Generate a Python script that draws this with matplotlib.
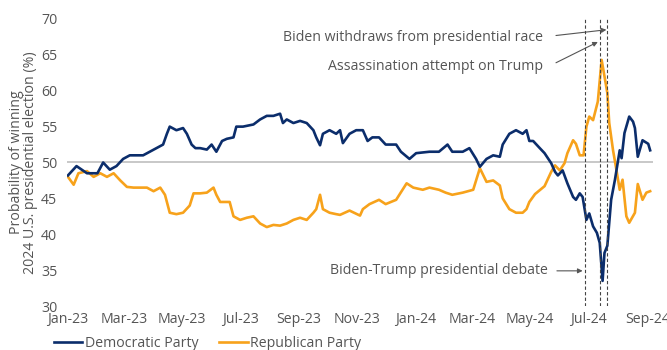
import pandas as pd
import matplotlib.pyplot as plt
import matplotlib.dates as mdates

# Probability of winning (%)
dem_dates = [
    "2023-01-01", "2023-01-10", "2023-01-21", "2023-02-01", "2023-02-07", "2023-02-14",
    "2023-02-21", "2023-02-28", "2023-03-07", "2023-03-14", "2023-03-21", "2023-03-28",
    "2023-04-04", "2023-04-11", "2023-04-15", "2023-04-18", "2023-04-25", "2023-05-02",
    "2023-05-06", "2023-05-11", "2023-05-15", "2023-05-20", "2023-05-27", "2023-06-01",
    "2023-06-06", "2023-06-12", "2023-06-17", "2023-06-24", "2023-06-27", "2023-07-04",
    "2023-07-15", "2023-07-22", "2023-07-29", "2023-08-05", "2023-08-12", "2023-08-15",
    "2023-08-19", "2023-08-26", "2023-09-02", "2023-09-09", "2023-09-16", "2023-09-19",
    "2023-09-23", "2023-09-26", "2023-10-03", "2023-10-10", "2023-10-14", "2023-10-17",
    "2023-10-24", "2023-10-31", "2023-11-07", "2023-11-12", "2023-11-17", "2023-11-24",
    "2023-12-01", "2023-12-12", "2023-12-17", "2023-12-26", "2024-01-02", "2024-01-16",
    "2024-01-26", "2024-02-04", "2024-02-09", "2024-02-20", "2024-02-27", "2024-03-05",
    "2024-03-09", "2024-03-16", "2024-03-23", "2024-03-30", "2024-04-02", "2024-04-09",
    "2024-04-16", "2024-04-23", "2024-04-27", "2024-04-30", "2024-05-04", "2024-05-11",
    "2024-05-16", "2024-05-23", "2024-05-27", "2024-05-30", "2024-06-04", "2024-06-09",
    "2024-06-15", "2024-06-18", "2024-06-22", "2024-06-25", "2024-06-29", "2024-07-02",
    "2024-07-06", "2024-07-10", "2024-07-13", "2024-07-16", "2024-07-18", "2024-07-21",
    "2024-07-25", "2024-07-29", "2024-08-03", "2024-08-05", "2024-08-08", "2024-08-13",
    "2024-08-17", "2024-08-19", "2024-08-22", "2024-08-27", "2024-09-02", "2024-09-04",
]
dem_values = [
    48.2, 49.5, 48.5, 48.5, 50.0, 49.0,
    49.5, 50.5, 51.0, 51.0, 51.0, 51.5,
    52.0, 52.5, 54.0, 55.0, 54.5, 54.8,
    54.0, 52.5, 52.0, 52.0, 51.8, 52.5,
    51.5, 53.0, 53.3, 53.5, 55.0, 55.0,
    55.3, 56.0, 56.5, 56.5, 56.8, 55.5,
    56.0, 55.5, 55.8, 55.5, 54.5, 53.5,
    52.4, 54.0, 54.5, 54.0, 54.5, 52.7,
    54.0, 54.5, 54.5, 53.0, 53.5, 53.5,
    52.5, 52.5, 51.5, 50.5, 51.3, 51.5,
    51.5, 52.5, 51.5, 51.5, 52.0, 50.5,
    49.4, 50.5, 51.0, 50.8, 52.5, 54.0,
    54.5, 54.0, 54.5, 53.0, 53.0, 52.0,
    51.3, 49.9, 48.7, 48.2, 48.9, 47.1,
    45.2, 44.8, 45.7, 45.2, 42.0, 42.9,
    41.1, 40.2, 38.8, 33.5, 37.4, 38.4,
    44.8, 47.6, 51.7, 50.6, 54.1, 56.4,
    55.7, 54.8, 50.8, 53.1, 52.6, 51.7,
]

rep_dates = [
    "2023-01-01", "2023-01-07", "2023-01-12", "2023-01-21", "2023-01-28", "2023-02-04",
    "2023-02-11", "2023-02-18", "2023-02-25", "2023-03-04", "2023-03-11", "2023-03-18",
    "2023-03-25", "2023-04-01", "2023-04-08", "2023-04-13", "2023-04-18", "2023-04-25",
    "2023-05-02", "2023-05-09", "2023-05-13", "2023-05-20", "2023-05-27", "2023-06-03",
    "2023-06-06", "2023-06-10", "2023-06-20", "2023-06-24", "2023-07-01", "2023-07-08",
    "2023-07-15", "2023-07-22", "2023-07-29", "2023-08-05", "2023-08-12", "2023-08-19",
    "2023-08-26", "2023-09-02", "2023-09-09", "2023-09-16", "2023-09-19", "2023-09-23",
    "2023-09-26", "2023-10-03", "2023-10-10", "2023-10-14", "2023-10-24", "2023-11-04",
    "2023-11-07", "2023-11-14", "2023-11-24", "2023-12-01", "2023-12-12", "2023-12-23",
    "2023-12-30", "2024-01-09", "2024-01-16", "2024-01-26", "2024-02-02", "2024-02-09",
    "2024-02-20", "2024-03-02", "2024-03-09", "2024-03-16", "2024-03-23", "2024-03-30",
    "2024-04-02", "2024-04-09", "2024-04-16", "2024-04-23", "2024-04-27", "2024-04-30",
    "2024-05-06", "2024-05-16", "2024-05-23", "2024-05-27", "2024-06-01", "2024-06-06",
    "2024-06-09", "2024-06-15", "2024-06-18", "2024-06-22", "2024-06-26", "2024-06-29",
    "2024-07-02", "2024-07-06", "2024-07-11", "2024-07-15", "2024-07-18", "2024-07-21",
    "2024-07-23", "2024-07-27", "2024-07-30", "2024-08-03", "2024-08-06", "2024-08-10",
    "2024-08-13", "2024-08-19", "2024-08-22", "2024-08-27", "2024-08-31", "2024-09-04",
]
rep_values = [
    48.0, 46.9, 48.5, 48.8, 48.0, 48.5,
    48.0, 48.5, 47.5, 46.6, 46.5, 46.5,
    46.5, 46.0, 46.5, 45.5, 43.0, 42.8,
    43.0, 44.0, 45.7, 45.7, 45.8, 46.5,
    45.5, 44.5, 44.5, 42.5, 42.0, 42.3,
    42.5, 41.5, 41.0, 41.3, 41.2, 41.5,
    42.0, 42.3, 42.0, 43.0, 43.5, 45.5,
    43.5, 43.0, 42.8, 42.7, 43.3, 42.6,
    43.5, 44.2, 44.8, 44.2, 44.8, 47.1,
    46.5, 46.2, 46.5, 46.2, 45.8, 45.5,
    45.8, 46.2, 49.2, 47.3, 47.5, 46.8,
    45.0, 43.5, 43.0, 43.0, 43.5, 44.5,
    45.6, 46.7, 48.7, 49.6, 48.9, 49.9,
    51.3, 53.1, 52.6, 51.0, 51.0, 55.0,
    56.4, 55.9, 58.5, 64.3, 62.0, 59.7,
    55.5, 51.7, 49.4, 46.2, 47.6, 42.5,
    41.6, 43.0, 47.0, 44.8, 45.8, 46.0,
]

event_dates = ["2024-06-27", "2024-07-13", "2024-07-21"]
y_ticks = [30, 35, 40, 45, 50, 55, 60, 65, 70]

DEM_COLOR = "#0b2d6b"
REP_COLOR = "#f7a21b"
TEXT_COLOR = "#555555"

plt.rcParams["font.family"] = ["Open Sans", "DejaVu Sans"]
FS = 10.2

fig = plt.figure(figsize=(6.67, 3.5), dpi=100)
ax = fig.add_axes([67 / 667, 44 / 350, 586 / 667, 287 / 350])

ax.axhline(50, color="#c8c8c8", lw=1.4, zorder=1)
ax.plot(pd.to_datetime(dem_dates), dem_values, color=DEM_COLOR, lw=1.9,
        label="Democratic Party", zorder=3)
ax.plot(pd.to_datetime(rep_dates), rep_values, color=REP_COLOR, lw=1.9,
        label="Republican Party", zorder=2)

for d in event_dates:
    ax.axvline(pd.Timestamp(d), color="#444444", lw=0.8, ls=(0, (3, 2)), zorder=4)

arrow = dict(arrowstyle="-|>", color="#555555", lw=0.8, mutation_scale=7,
             shrinkA=0, shrinkB=0)
ax.annotate("", xy=(pd.Timestamp("2024-07-20"), 68.5),
            xytext=(pd.Timestamp("2024-05-28"), 67.7), arrowprops=arrow)
ax.annotate("", xy=(pd.Timestamp("2024-07-11"), 66.8),
            xytext=(pd.Timestamp("2024-05-28"), 63.9), arrowprops=arrow)
ax.annotate("", xy=(pd.Timestamp("2024-06-25"), 34.9),
            xytext=(pd.Timestamp("2024-05-29"), 34.9), arrowprops=arrow)

ax.text(pd.Timestamp("2024-05-14"), 67.4, "Biden withdraws from presidential race",
        ha="right", va="center", fontsize=FS, color=TEXT_COLOR)
ax.text(pd.Timestamp("2024-05-14"), 63.4, "Assassination attempt on Trump",
        ha="right", va="center", fontsize=FS, color=TEXT_COLOR)
ax.text(pd.Timestamp("2024-05-20"), 34.9, "Biden-Trump presidential debate",
        ha="right", va="center", fontsize=FS, color=TEXT_COLOR)

ax.set_xlim(pd.Timestamp("2022-12-31"), pd.Timestamp("2024-09-07"))
ax.set_ylim(30, 70)
ax.set_yticks(y_ticks)
ax.xaxis.set_major_locator(mdates.MonthLocator(bymonth=[1, 3, 5, 7, 9, 11]))
ax.xaxis.set_major_formatter(mdates.DateFormatter("%b-%y"))
ax.tick_params(length=0, labelsize=FS, labelcolor=TEXT_COLOR)
ax.tick_params(axis="y", pad=7)
ax.tick_params(axis="x", pad=4)
for s in ax.spines.values():
    s.set_visible(False)

ax.set_ylabel("Probability of winning\n2024 U.S. presidential election (%)",
              fontsize=FS, color=TEXT_COLOR, linespacing=0.95, labelpad=2)

fig.legend(loc="lower left", bbox_to_anchor=(0.062, -0.04), ncol=2, frameon=False,
           fontsize=FS, handlelength=2.0, handletextpad=0.15, columnspacing=1.5,
           labelcolor=TEXT_COLOR)

fig.savefig("out.png", dpi=100)
